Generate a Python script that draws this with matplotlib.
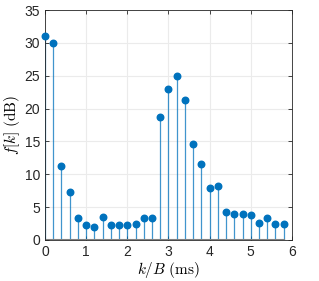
import matplotlib.pyplot as plt
import numpy as np

plt.rcParams["mathtext.fontset"] = "cm"
plt.rcParams["font.family"] = ["Liberation Sans", "DejaVu Sans"]

k_over_b = [0.0, 0.2, 0.4, 0.6, 0.8, 1.0, 1.2, 1.4, 1.6, 1.8,
            2.0, 2.2, 2.4, 2.6, 2.8, 3.0, 3.2, 3.4, 3.6, 3.8,
            4.0, 4.2, 4.4, 4.6, 4.8, 5.0, 5.2, 5.4, 5.6, 5.8]
f_db = [31.1, 30.0, 11.3, 7.3, 3.3, 2.3, 2.0, 3.45, 2.3, 2.3,
        2.3, 2.4, 3.35, 3.35, 18.7, 23.0, 25.0, 21.3, 14.6, 11.5,
        7.9, 8.2, 4.3, 3.95, 3.95, 3.85, 2.6, 3.4, 2.5, 2.4]

fig = plt.figure(figsize=(3.19, 2.81), dpi=100)
ax = fig.add_axes([0.141, 0.146, 0.774, 0.818])

blue = "#0072BD"
markers, stems, base = ax.stem(k_over_b, f_db)
plt.setp(stems, color=blue, linewidth=0.9, alpha=0.75)
plt.setp(markers, color=blue, markersize=4.7, clip_on=False, zorder=4)
plt.setp(base, color="#808080", linewidth=1.5)

ax.set_xlim(0, 6)
ax.set_ylim(0, 35)
ax.set_xticks(range(0, 7))
ax.set_yticks(range(0, 36, 5))
ax.grid(True, color="#ebebeb", linewidth=0.8)
ax.set_axisbelow(True)
ax.tick_params(direction="in", top=True, right=True, length=3,
               labelsize=10, colors="#262626", width=0.6)
for s in ax.spines.values():
    s.set_color("#262626")
    s.set_linewidth(0.6)

ax.set_xlabel(r"$k/B\ \mathrm{(ms)}$", fontsize=11, labelpad=1)
ax.set_ylabel(r"$f[k]\ \mathrm{(dB)}$", fontsize=11, labelpad=2)

fig.savefig("out.png", dpi=100)
